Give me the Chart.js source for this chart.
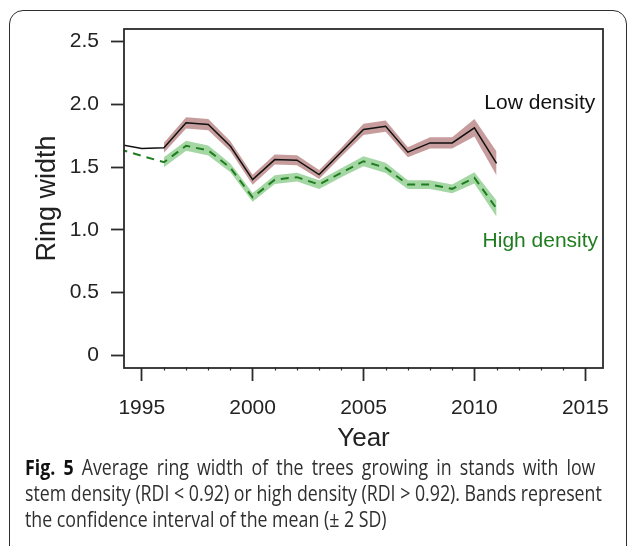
<!DOCTYPE html>
<html>
<head>
<meta charset="utf-8">
<script src="https://cdn.jsdelivr.net/npm/chart.js@4.4.1/dist/chart.umd.min.js"></script>
<style>
  html, body { margin: 0; padding: 0; background: #fff; }
  body { width: 627px; height: 546px; position: relative; overflow: hidden; }
  #frame {
    position: absolute; left: 9px; top: 10px; width: 618px; height: 600px;
    border: 1.6px solid #2e2e2e; border-radius: 14px; box-sizing: border-box;
  }
  #plot { position: absolute; left: 0; top: 0; }
  #caption {
    position: absolute; left: 25px; top: 454px;
    font-family: "Open Sans", "Noto Sans", sans-serif; font-size: 21px;
    line-height: 26px; color: #2f2f2f;
  }
  #caption div { white-space: nowrap; width: max-content; transform-origin: 0 50%; }
  #caption b { font-weight: 700; color: #111; }
</style>
</head>
<body>
<div id="frame"></div>
<canvas id="plot" width="627" height="460"></canvas>
<div id="caption">
  <div><b>Fig. 5</b> Average ring width of the trees growing in stands with low</div>
  <div>stem density (RDI &lt; 0.92) or high density (RDI &gt; 0.92). Bands represent</div>
  <div>the confidence interval of the mean (± 2 SD)</div>
</div>
<script>
// Years of the ring-width chronology
const years = [1994, 1995, 1996, 1997, 1998, 1999, 2000, 2001, 2002, 2003,
               2004, 2005, 2006, 2007, 2008, 2009, 2010, 2011];

// Mean ring width, low stem density stands
const lowMean  = [1.68, 1.648, 1.654, 1.853, 1.839, 1.666, 1.40, 1.56, 1.555, 1.441,
                  1.62, 1.80, 1.826, 1.619, 1.693, 1.693, 1.813, 1.529];
// Mean ring width, high stem density stands
const highMean = [1.642, 1.59, 1.539, 1.67, 1.633, 1.494, 1.259, 1.40, 1.42, 1.361,
                  1.455, 1.547, 1.494, 1.361, 1.361, 1.327, 1.415, 1.17];

// Half-width of the confidence band (± 2 SD); null where no band is drawn
const lowBand  = [null, null, 0.04, 0.045, 0.045, 0.04, 0.04, 0.04, 0.04, 0.035,
                  0.035, 0.045, 0.045, 0.04, 0.045, 0.045, 0.07, 0.095];
const highBand = [null, null, 0.04, 0.04, 0.04, 0.035, 0.035, 0.035, 0.035, 0.035,
                  0.035, 0.04, 0.04, 0.035, 0.035, 0.035, 0.045, 0.065];

// Axis ticks
const xTicks = [1995, 2000, 2005, 2010, 2015];
const yTicks = [0, 0.5, 1.0, 1.5, 2.0, 2.5];
const yTickLabels = ['0', '0.5', '1.0', '1.5', '2.0', '2.5'];

// Series names written inside the plot
const seriesNames = ['Low density', 'High density'];

const INK = '#2b2b2b';
const GREEN = '#1f7d1f';
const AXIS_FONT = { family: '"Liberation Sans", Arial, sans-serif', size: 21 };

function points(values) {
  return years.map((y, i) => ({ x: y, y: values[i] }));
}
function bandEdge(mean, band, sign) {
  const out = [];
  years.forEach((y, i) => {
    if (band[i] !== null) out.push({ x: y, y: mean[i] + sign * band[i] });
  });
  return out;
}

// Plot frame, minor year ticks and in-plot series labels
const framePlugin = {
  id: 'frame',
  afterDatasetsDraw(chart) {
    const { ctx, chartArea: a, scales: { x, y } } = chart;
    ctx.save();
    ctx.strokeStyle = INK;
    ctx.lineWidth = 1.8;
    ctx.strokeRect(a.left, a.top, a.right - a.left, a.bottom - a.top);

    ctx.lineWidth = 1.2;
    for (let yr = Math.ceil(x.min); yr <= x.max; yr++) {
      if (xTicks.includes(yr)) continue;
      const px = Math.round(x.getPixelForValue(yr)) + 0.5;
      ctx.beginPath();
      ctx.moveTo(px, a.bottom - 1);
      ctx.lineTo(px, a.bottom + 2.5);
      ctx.stroke();
    }

    ctx.font = '21px "Liberation Sans", Arial, sans-serif';
    ctx.textAlign = 'right';
    ctx.textBaseline = 'alphabetic';
    ctx.fillStyle = '#111';
    ctx.fillText(seriesNames[0], x.getPixelForValue(2015.45), y.getPixelForValue(1.96));
    ctx.fillStyle = GREEN;
    ctx.fillText(seriesNames[1], x.getPixelForValue(2015.58), y.getPixelForValue(0.86));
    ctx.restore();
  }
};

new Chart(document.getElementById('plot'), {
  type: 'line',
  data: {
    datasets: [
      { data: bandEdge(lowMean, lowBand, 1), borderWidth: 0, pointRadius: 0,
        backgroundColor: 'rgba(165, 95, 95, 0.62)', fill: '+1', clip: 0, order: 3 },
      { data: bandEdge(lowMean, lowBand, -1), borderWidth: 0, pointRadius: 0,
        fill: false, clip: 0, order: 3 },
      { data: bandEdge(highMean, highBand, 1), borderWidth: 0, pointRadius: 0,
        backgroundColor: 'rgba(110, 190, 110, 0.62)', fill: '+1', clip: 0, order: 3 },
      { data: bandEdge(highMean, highBand, -1), borderWidth: 0, pointRadius: 0,
        fill: false, clip: 0, order: 3 },
      { label: seriesNames[0], data: points(lowMean), borderColor: '#111',
        borderWidth: 1.5, pointRadius: 0, fill: false, tension: 0, clip: 0, order: 1 },
      { label: seriesNames[1], data: points(highMean), borderColor: GREEN,
        borderWidth: 2, borderDash: [8, 6], pointRadius: 0, fill: false, tension: 0,
        clip: 0, order: 2 }
    ]
  },
  options: {
    responsive: false,
    animation: false,
    layout: { padding: { top: 29, right: 24, left: 0, bottom: 0 } },
    plugins: { legend: { display: false }, tooltip: { enabled: false } },
    scales: {
      x: {
        type: 'linear', min: 1994.2, max: 2015.8,
        afterFit(s) { s.height = 92; },
        afterBuildTicks(s) { s.ticks = xTicks.map(v => ({ value: v })); },
        ticks: { font: AXIS_FONT, color: '#222', padding: 15, maxRotation: 0,
                 callback: v => String(v) },
        grid: { drawOnChartArea: false, drawTicks: true, tickLength: 13,
                tickWidth: 1.8, tickColor: INK },
        border: { display: false },
        title: { display: true, text: 'Year', color: '#222',
                 font: { family: '"Liberation Sans", Arial, sans-serif', size: 26 },
                 padding: { top: 0, bottom: 6 } }
      },
      y: {
        type: 'linear', min: -0.1, max: 2.6,
        afterFit(s) { s.width = 124; },
        afterBuildTicks(s) { s.ticks = yTicks.map(v => ({ value: v })); },
        ticks: { font: AXIS_FONT, color: '#222', padding: 12,
                 callback: v => yTickLabels[yTicks.indexOf(v)] },
        grid: { drawOnChartArea: false, drawTicks: true, tickLength: 13,
                tickWidth: 1.8, tickColor: INK },
        border: { display: false },
        title: { display: true, text: 'Ring width', color: '#222',
                 font: { family: '"Liberation Sans", Arial, sans-serif', size: 27 },
                 padding: { top: 31, bottom: 0 } }
      }
    }
  },
  plugins: [framePlugin]
});

// Fit the caption into its column: one horizontal scale for all lines,
// and the first line is justified with extra word spacing
(function fitCaption() {
  const lines = document.querySelectorAll('#caption div');
  const s = 577 / lines[1].scrollWidth;
  lines.forEach(l => { l.style.transform = 'scaleX(' + s + ')'; });
  const first = lines[0];
  const words = first.textContent.trim().split(/\s+/).length;
  const extra = (570 / s - first.scrollWidth) / (words - 1);
  if (extra > 0) first.style.wordSpacing = extra + 'px';
})();
</script>
</body>
</html>
